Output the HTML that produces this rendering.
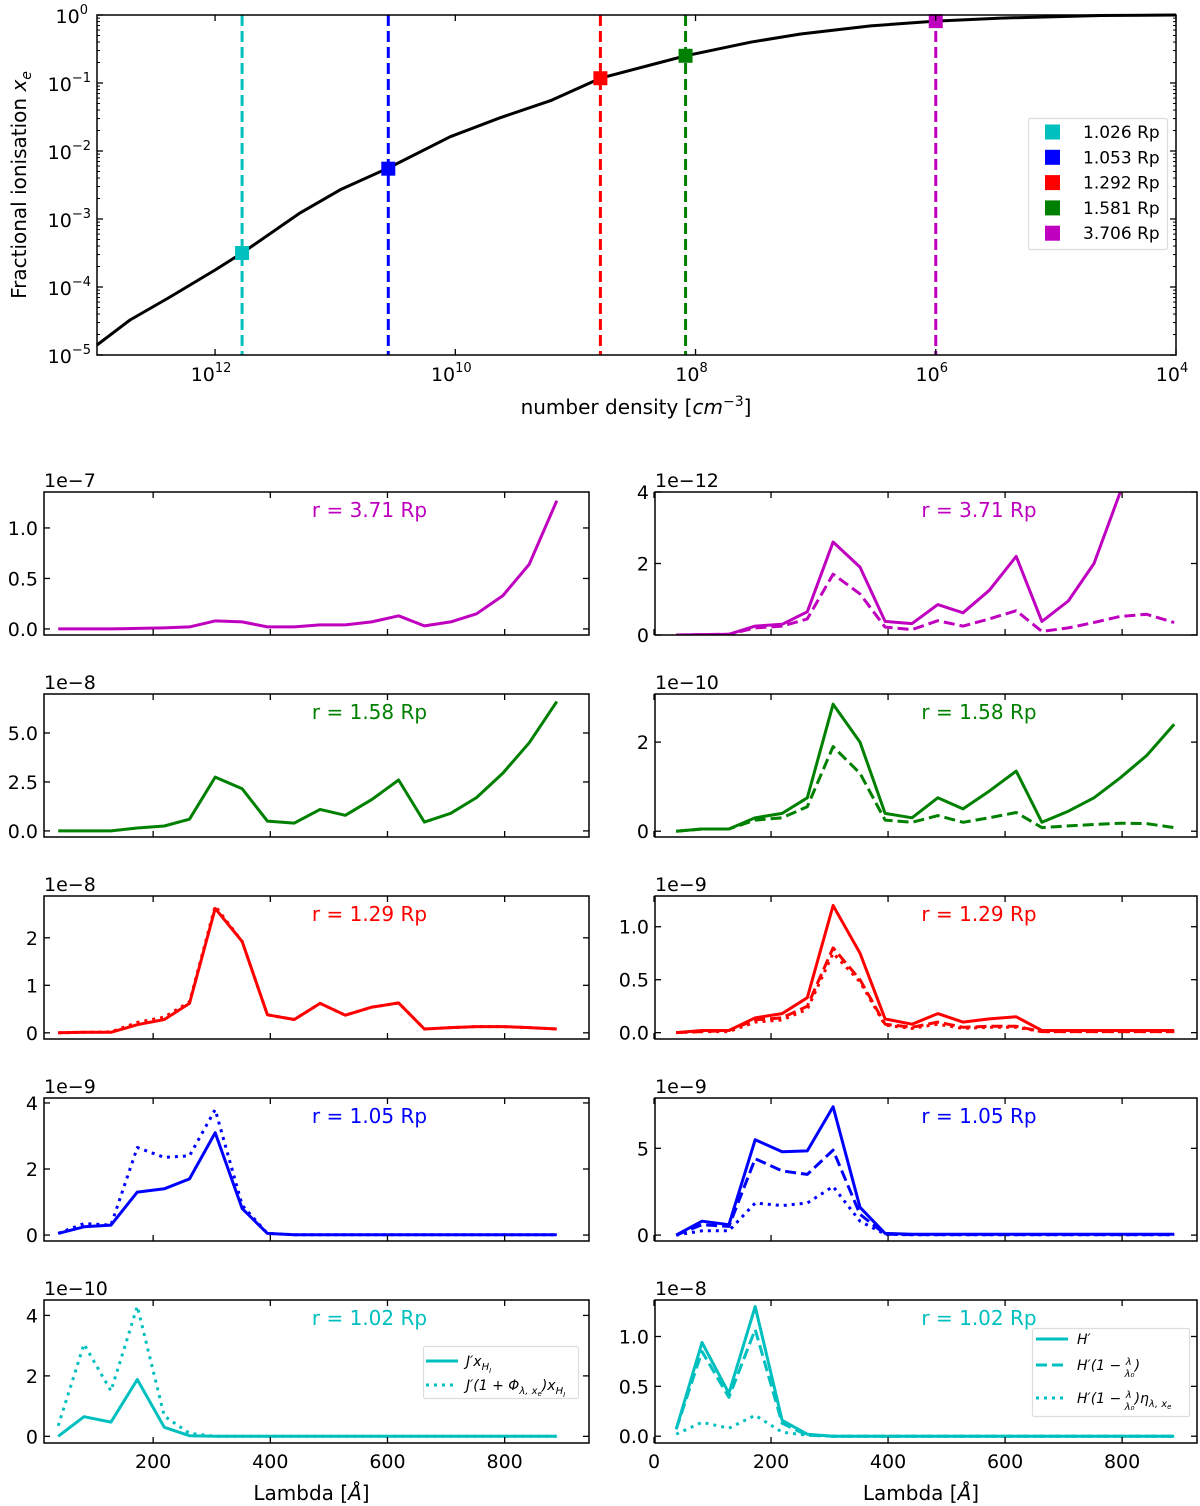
<!DOCTYPE html>
<html><head><meta charset="utf-8">
<style>
html,body{margin:0;padding:0;background:#fff;}
svg{display:block;font-family:"DejaVu Sans","Liberation Sans",sans-serif;}
</style></head>
<body>
<svg id="fig" width="1200" height="1506" viewBox="0 0 1200 1506" xmlns="http://www.w3.org/2000/svg"></svg>
<script>
// ---------- Top panel data ----------
const curveLogN = [12.983,12.708,12.375,12.0,11.775,11.292,10.958,10.558,10.042,9.625,9.208,8.792,8.375,8.083,7.542,7.125,6.542,6.0,5.458,4.625,4.0];
const curveLogXe = [-4.853,-4.485,-4.147,-3.75,-3.5,-2.91,-2.57,-2.25,-1.79,-1.51,-1.26,-0.93,-0.735,-0.6,-0.4,-0.28,-0.16,-0.09,-0.045,-0.007,0.0];
const markerLabels = ["1.026 Rp","1.053 Rp","1.292 Rp","1.581 Rp","3.706 Rp"];
const markerLogN = [11.775,10.558,8.792,8.083,6.0];
const markerLogXe = [-3.5,-2.26,-0.93,-0.6,-0.09];
const markerColors = ["#00bfbf","#0000ff","#ff0000","#008000","#bf00bf"];
const topXTicks = [12,10,8,6,4];
const topYTicks = [0,-1,-2,-3,-4,-5];

// ---------- Spectra data ----------
const lambda = [38,82,128,173,219,262,306,352,395,441,485,528,573,619,663,708,752,797,842,889];
const magJ = [0,0,0,0.005,0.01,0.02,0.08,0.07,0.02,0.02,0.04,0.04,0.07,0.13,0.03,0.07,0.15,0.33,0.64,1.27];
const magH = [0,0.01,0.02,0.25,0.3,0.65,2.6,1.9,0.38,0.32,0.85,0.62,1.25,2.2,0.38,0.95,2.0,4.0,8.0,16.0];
const magHd = [0,0.01,0.02,0.2,0.25,0.45,1.7,1.15,0.22,0.15,0.4,0.25,0.45,0.68,0.1,0.2,0.35,0.52,0.58,0.35];
const grnJ = [0,0,0,0.15,0.25,0.6,2.75,2.15,0.5,0.4,1.1,0.8,1.6,2.6,0.45,0.9,1.7,2.95,4.5,6.6];
const grnH = [0,0.05,0.05,0.3,0.4,0.75,2.85,2.0,0.4,0.3,0.75,0.5,0.9,1.35,0.2,0.45,0.75,1.2,1.7,2.4];
const grnHd = [0,0.05,0.05,0.25,0.3,0.55,1.9,1.3,0.25,0.2,0.35,0.2,0.3,0.42,0.08,0.12,0.15,0.18,0.17,0.08];
const redJ = [0,0.01,0.01,0.17,0.28,0.62,2.62,1.92,0.38,0.28,0.62,0.37,0.54,0.63,0.08,0.11,0.13,0.13,0.11,0.08];
const redJp = [0,0.01,0.02,0.22,0.33,0.65,2.67,1.92,0.38,0.28,0.62,0.37,0.54,0.63,0.08,0.11,0.13,0.13,0.11,0.08];
const redH = [0,0.02,0.02,0.14,0.18,0.33,1.2,0.75,0.13,0.08,0.18,0.1,0.13,0.15,0.02,0.02,0.02,0.02,0.02,0.02];
const redHd = [0,0.01,0.02,0.12,0.14,0.25,0.8,0.5,0.08,0.05,0.1,0.05,0.06,0.06,0.01,0.01,0.01,0.01,0.01,0.01];
const redHp = [0,0.01,0.01,0.1,0.12,0.22,0.75,0.48,0.07,0.04,0.08,0.04,0.05,0.05,0.01,0.01,0.01,0.01,0.01,0.01];
const bluJ = [0.05,0.25,0.3,1.3,1.4,1.7,3.1,0.8,0.05,0.01,0.01,0.01,0.01,0.01,0.01,0.01,0.01,0.01,0.01,0.01];
const bluJp = [0.05,0.35,0.3,2.65,2.35,2.4,3.8,0.9,0.05,0.01,0.01,0.01,0.01,0.01,0.01,0.01,0.01,0.01,0.01,0.01];
const bluH = [0,0.8,0.6,5.5,4.8,4.85,7.4,1.6,0.1,0.05,0.05,0.05,0.05,0.05,0.05,0.05,0.05,0.05,0.05,0.05];
const bluHd = [0,0.6,0.5,4.4,3.7,3.5,4.9,1.2,0.05,0.03,0.03,0.03,0.03,0.03,0.03,0.03,0.03,0.03,0.03,0.03];
const bluHp = [0,0.25,0.25,1.85,1.7,1.85,2.8,0.8,0.05,0.02,0.02,0.02,0.02,0.02,0.02,0.02,0.02,0.02,0.02,0.02];
const cyaJ = [0,0.65,0.47,1.88,0.3,0.02,0,0,0,0,0,0,0,0,0,0,0,0,0,0];
const cyaJp = [0.35,3.05,1.5,4.3,0.67,0.1,0,0,0,0,0,0,0,0,0,0,0,0,0,0];
const cyaH = [0.07,0.94,0.43,1.3,0.16,0.02,0,0,0,0,0,0,0,0,0,0,0,0,0,0];
const cyaHd = [0.07,0.85,0.39,1.07,0.13,0.01,0,0,0,0,0,0,0,0,0,0,0,0,0,0];
const cyaHp = [0.02,0.14,0.08,0.21,0.04,0.01,0,0,0,0,0,0,0,0,0,0,0,0,0,0];

const NS="http://www.w3.org/2000/svg";
const svg=document.getElementById('fig');
function mk(tag,attrs,parent){const e=document.createElementNS(NS,tag);for(const k in attrs)e.setAttribute(k,attrs[k]);(parent||svg).appendChild(e);return e;}

// ========== TOP PANEL ==========
const TX0=97,TX1=1176,TY0=15,TY1=355;
const nMax=12.983,nMin=4.0;
function tx(l){return TX0+(nMax-l)/(nMax-nMin)*(TX1-TX0);}
function ty(l){return TY0+(0-l)/5*(TY1-TY0);}
const topG=mk('g',{});


markerLogN.forEach((n,i)=>{
  const l=mk('line',{x1:tx(n),x2:tx(n),y1:TY0,y2:TY1,stroke:markerColors[i],'stroke-width':3,'stroke-dasharray':'11,5'},topG);
  
  
});
let d0='';curveLogN.forEach((n,i)=>{d0+=(i?'L':'M')+tx(n).toFixed(1)+' '+ty(curveLogXe[i]).toFixed(1);});
const cv=mk('path',{d:d0,fill:'none',stroke:'#000','stroke-width':3,'stroke-linejoin':'round'},topG);


markerLogN.forEach((n,i)=>{
  const r=mk('rect',{x:tx(n)-7,y:ty(markerLogXe[i])-7,width:14,height:14,fill:markerColors[i]},topG);
  
  
});
mk('rect',{x:TX0,y:TY0,width:TX1-TX0,height:TY1-TY0,fill:'none',stroke:'#000','stroke-width':1.5},topG);
topXTicks.forEach(t=>{
  const x=tx(t);
  mk('line',{x1:x,x2:x,y1:TY1,y2:TY1-6,stroke:'#000','stroke-width':1.3},topG);
  mk('line',{x1:x,x2:x,y1:TY0,y2:TY0+6,stroke:'#000','stroke-width':1.3},topG);
  const tt=mk('text',{x:x-4,y:381,'font-size':19,'text-anchor':'middle'},topG);
  
  
  tt.innerHTML='10<tspan dy="-9" font-size="13">'+t+'</tspan>';
});
topYTicks.forEach(t=>{
  const y=ty(t);
  mk('line',{x1:TX0,x2:TX0+6,y1:y,y2:y,stroke:'#000','stroke-width':1.3},topG);
  mk('line',{x1:TX1,x2:TX1-6,y1:y,y2:y,stroke:'#000','stroke-width':1.3},topG);
  if(t>-5){for(let k=2;k<=9;k++){const yy=ty(t-1+Math.log10(k));
    mk('line',{x1:TX0,x2:TX0+3,y1:yy,y2:yy,stroke:'#000','stroke-width':1},topG);
    mk('line',{x1:TX1,x2:TX1-3,y1:yy,y2:yy,stroke:'#000','stroke-width':1},topG);}}
  const tt=mk('text',{x:t===0?88:91,y:y+8,'font-size':19,'text-anchor':'end'},topG);
  
  
  tt.innerHTML='10<tspan dy="-9" font-size="13">'+(t===0?'0':'−'+(-t))+'</tspan>';
});
const xl=mk('text',{x:636,y:414,'font-size':20,'text-anchor':'middle'},topG);


xl.innerHTML='number density [<tspan font-style="italic">cm</tspan><tspan dy="-8" font-size="14">−3</tspan><tspan dy="8">]</tspan>';
const yl=mk('text',{transform:'translate(26,185) rotate(-90)','font-size':20,'text-anchor':'middle'},topG);


yl.innerHTML='Fractional ionisation <tspan font-style="italic">x</tspan><tspan dy="5" font-size="14" font-style="italic">e</tspan>';
const lg=mk('g',{},topG);


mk('rect',{x:1028.5,y:118.5,width:139,height:131,fill:'#fff',stroke:'#ddd','stroke-width':1.2,rx:2},lg);
markerLabels.forEach((lab,i)=>{
  const y=132+i*25.3;
  const e=mk('g',{},lg);
  
  
  mk('rect',{x:1045,y:y-7.5,width:15,height:15,fill:markerColors[i]},e);
  const t=mk('text',{x:1083,y:y+6,'font-size':17},e);t.textContent=lab;
});

// ========== SPECTRA PANELS ==========
const rowsY=[[492,635],[694,837],[896,1039],[1098,1241],[1300,1443]];
const colX=[[44,589,13.7,944],[655,1197,1.7,928]];
const panels=[
 {row:0,col:0,color:'#bf00bf',exp:'1e−7',ylim:[-0.06,1.356],ticks:[0,0.5,1.0],dec:1,label:'r = 3.71 Rp',series:[[magJ,'solid']]},
 {row:0,col:1,color:'#bf00bf',exp:'1e−12',ylim:[0,4],ticks:[0,2,4],dec:0,label:'r = 3.71 Rp',series:[[magH,'solid'],[magHd,'dash']]},
 {row:1,col:0,color:'#008000',exp:'1e−8',ylim:[-0.31,6.99],ticks:[0,2.5,5.0],dec:1,label:'r = 1.58 Rp',series:[[grnJ,'solid']]},
 {row:1,col:1,color:'#008000',exp:'1e−10',ylim:[-0.13,3.08],ticks:[0,2],dec:0,label:'r = 1.58 Rp',series:[[grnH,'solid'],[grnHd,'dash']]},
 {row:2,col:0,color:'#ff0000',exp:'1e−8',ylim:[-0.13,2.88],ticks:[0,1,2],dec:0,label:'r = 1.29 Rp',series:[[redJp,'dot'],[redJ,'solid']]},
 {row:2,col:1,color:'#ff0000',exp:'1e−9',ylim:[-0.06,1.29],ticks:[0,0.5,1.0],dec:1,label:'r = 1.29 Rp',series:[[redH,'solid'],[redHd,'dash'],[redHp,'dot']]},
 {row:3,col:0,color:'#0000ff',exp:'1e−9',ylim:[-0.18,4.15],ticks:[0,2,4],dec:0,label:'r = 1.05 Rp',series:[[bluJ,'solid'],[bluJp,'dot']]},
 {row:3,col:1,color:'#0000ff',exp:'1e−9',ylim:[-0.34,7.9],ticks:[0,5],dec:0,label:'r = 1.05 Rp',series:[[bluH,'solid'],[bluHd,'dash'],[bluHp,'dot']]},
 {row:4,col:0,color:'#00bfbf',exp:'1e−10',ylim:[-0.22,4.51],ticks:[0,2,4],dec:0,label:'r = 1.02 Rp',series:[[cyaJ,'solid'],[cyaJp,'dot']]},
 {row:4,col:1,color:'#00bfbf',exp:'1e−8',ylim:[-0.068,1.366],ticks:[0,0.5,1.0],dec:1,label:'r = 1.02 Rp',series:[[cyaH,'solid'],[cyaHd,'dash'],[cyaHp,'dot']]}
];
const dashes={solid:'',dash:'11,5',dot:'3,5'};
panels.forEach((p,pi)=>{
  const [y0,y1]=rowsY[p.row];const [x0,x1,l0,l1]=colX[p.col];
  const X=l=>x0+(l-l0)/(l1-l0)*(x1-x0);
  const Y=v=>y1-(v-p.ylim[0])/(p.ylim[1]-p.ylim[0])*(y1-y0);
  const g=mk('g',{});
  
  
  const cid='clip'+pi;
  const cp=mk('clipPath',{id:cid},g);mk('rect',{x:x0,y:y0,width:x1-x0,height:y1-y0},cp);
  p.series.forEach(([arr,st])=>{
    let d='';arr.forEach((v,i)=>{d+=(i?'L':'M')+X(lambda[i]).toFixed(1)+' '+Y(v).toFixed(1);});
    const a={d:d,fill:'none',stroke:p.color,'stroke-width':3,'stroke-linejoin':'round','clip-path':'url(#'+cid+')'};
    if(dashes[st])a['stroke-dasharray']=dashes[st];
    const pa=mk('path',a,g);
    
    
  });
  mk('rect',{x:x0,y:y0,width:x1-x0,height:y1-y0,fill:'none',stroke:'#000','stroke-width':1.5},g);
  const xt=p.col?[0,200,400,600,800]:[200,400,600,800];
  xt.forEach(t=>{const x=X(t);
    mk('line',{x1:x,x2:x,y1:y1,y2:y1-6,stroke:'#000','stroke-width':1.3},g);
    mk('line',{x1:x,x2:x,y1:y0,y2:y0+6,stroke:'#000','stroke-width':1.3},g);
    if(p.row===4){const t2=mk('text',{x:x,y:1468,'font-size':19,'text-anchor':'middle'},g);
      
      
      t2.textContent=t;}
  });
  p.ticks.forEach(t=>{const y=Y(t);
    mk('line',{x1:x0,x2:x0+6,y1:y,y2:y,stroke:'#000','stroke-width':1.3},g);
    mk('line',{x1:x1,x2:x1-6,y1:y,y2:y,stroke:'#000','stroke-width':1.3},g);
    const t2=mk('text',{x:x0-6,y:y+7,'font-size':19,'text-anchor':'end'},g);
    
    
    t2.textContent=t.toFixed(p.dec);
  });
  const ex=mk('text',{x:x0,y:y0-5,'font-size':19},g);
  
  
  ex.textContent=p.exp;
  const lb=mk('text',{x:(x0+x1)/2+53,y:y0+25,'font-size':20,'text-anchor':'middle',fill:p.color},g);
  
  
  lb.textContent=p.label;
  if(p.row===4){const al=mk('text',{x:(x0+x1)/2-5,y:1500,'font-size':20,'text-anchor':'middle'},g);
    
    
    al.innerHTML='Lambda [<tspan font-style="italic">Å</tspan>]';}
});

const lgL=mk('g',{});


mk('rect',{x:423.5,y:1346.5,width:155,height:52,fill:'#fff',stroke:'#ddd','stroke-width':1.2,rx:2},lgL);
mk('line',{x1:426,x2:458,y1:1361,y2:1361,stroke:'#00bfbf','stroke-width':3},lgL);
mk('line',{x1:426,x2:458,y1:1385,y2:1385,stroke:'#00bfbf','stroke-width':3,'stroke-dasharray':'3,5'},lgL);
let t1=mk('text',{x:466,y:1366,'font-size':14,'font-style':'italic'},lgL);
t1.innerHTML="J′x<tspan dy='4' font-size='10'>H</tspan><tspan dy='3' font-size='7'>I</tspan>";
let t2=mk('text',{x:466,y:1390,'font-size':14,'font-style':'italic'},lgL);
t2.innerHTML="J′(1 + Φ<tspan dy='4' font-size='10'>λ, x</tspan><tspan dy='2' font-size='7'>e</tspan><tspan dy='-6'>)x</tspan><tspan dy='4' font-size='10'>H</tspan><tspan dy='3' font-size='7'>I</tspan>";

const lgR=mk('g',{});


mk('rect',{x:1032.5,y:1328.5,width:157,height:88,fill:'#fff',stroke:'#ddd','stroke-width':1.2,rx:2},lgR);
mk('line',{x1:1036,x2:1068,y1:1339,y2:1339,stroke:'#00bfbf','stroke-width':3},lgR);
mk('line',{x1:1036,x2:1068,y1:1365,y2:1365,stroke:'#00bfbf','stroke-width':3,'stroke-dasharray':'11,5'},lgR);
mk('line',{x1:1036,x2:1068,y1:1398,y2:1398,stroke:'#00bfbf','stroke-width':3,'stroke-dasharray':'3,5'},lgR);
let h1=mk('text',{x:1077,y:1344,'font-size':14,'font-style':'italic'},lgR);h1.textContent="H′";
let h2=mk('text',{x:1077,y:1370,'font-size':14,'font-style':'italic'},lgR);
h2.innerHTML="H′(1 − <tspan font-size='10' dy='-5'>λ</tspan><tspan font-size='10' dx='-7' dy='12'>λ₀</tspan><tspan dy='-7'>)</tspan>";
let h3=mk('text',{x:1077,y:1403,'font-size':14,'font-style':'italic'},lgR);
h3.innerHTML="H′(1 − <tspan font-size='10' dy='-5'>λ</tspan><tspan font-size='10' dx='-7' dy='12'>λ₀</tspan><tspan dy='-7'>)η</tspan><tspan dy='4' font-size='10'>λ, x</tspan><tspan dy='2' font-size='7'>e</tspan>";
</script>
</body></html>
